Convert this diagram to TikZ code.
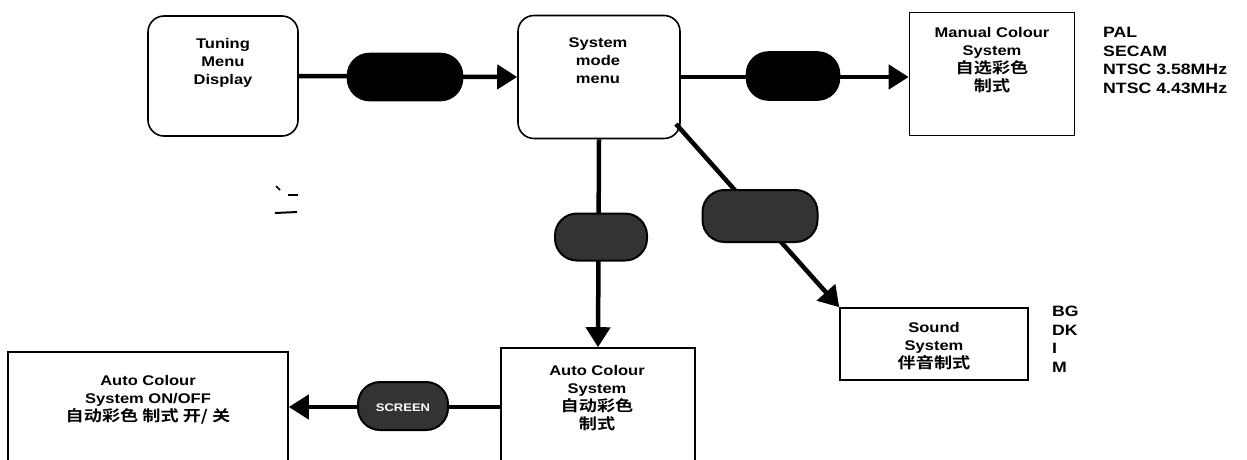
\documentclass[tikz,border=0pt]{standalone}
\usepackage{fontspec}
\setmainfont{Liberation Sans}[FakeStretch=1.18]
\newfontfamily\cjk{Noto Sans CJK SC}[BoldFont={Noto Sans CJK SC Bold},FakeStretch=1.2,Scale=1.08]
\usetikzlibrary{arrows.meta}
\begin{document}
\begin{tikzpicture}[x=1pt,y=-1pt,
  lbl/.style={font=\bfseries\fontsize{14}{18}\selectfont,align=center},
  rbox/.style={draw,line width=1.6pt,rounded corners=16pt,inner sep=0pt},
  sbox/.style={draw,line width=1.6pt,inner sep=0pt},
  pill/.style={draw,line width=1.6pt,fill=black,rounded corners=22pt,inner sep=0pt},
  gpill/.style={draw,line width=2pt,fill=black!80,rounded corners=22pt,inner sep=0pt},
  arr/.style={line width=4.5pt,-{Triangle[length=20pt,width=24pt]}},
  lst/.style={font=\bfseries\fontsize{15}{18.5}\selectfont,align=left,anchor=north west,inner sep=0pt}]
\useasboundingbox (0,0) rectangle (1247,459);
% boxes
\node[rbox,minimum width=150pt,minimum height=120pt] (tun) at (223,76) {};
\node[lbl] (tuntxt) at (223,63) {Tuning\\Menu\\Display};
\node[rbox,minimum width=162pt,minimum height=123pt] (sys) at (599,77) {};
\node[lbl] (systxt) at (598,61) {System\\mode\\menu};
\node[sbox,minimum width=165pt,minimum height=123pt] (man) at (992,74) {};
\node[lbl] (mantxt) at (992,60) {Manual Colour\\System\\{\cjk 自选彩色}\\{\cjk 制式}};
\node[lst] (mlist) at (1103,27) {PAL\\SECAM\\NTSC 3.58MHz\\NTSC 4.43MHz};
\node[sbox,minimum width=188pt,minimum height=72pt] (snd) at (934,344) {};
\node[lbl] (sndtxt) at (934,346) {Sound\\System\\{\cjk 伴音制式}};
\node[lst] (slist) at (1052,306) {BG\\DK\\I\\M};
\node[sbox,minimum width=194pt,minimum height=140pt] (auto) at (598,418) {};
\node[lbl] (autotxt) at (597,398) {Auto Colour\\System\\{\cjk 自动彩色}\\{\cjk 制式}};
\node[sbox,minimum width=280pt,minimum height=140pt] (onoff) at (148,422) {};
\node[lbl] (onofftxt) at (148,400) {Auto Colour\\System ON/OFF\\{\cjk 自动彩色 制式 开/ 关}};
% connectors
\draw[arr] (tun.east) -- (sys.west);
\coordinate (mstart) at (sys.east);
\draw[arr] (mstart) -- (man.west |- mstart);
\draw[arr] (sys.south) -- (auto.north);
\coordinate (dstart) at (676,124);
\draw[arr] (dstart) -- (snd.north west);
\coordinate (astart) at (auto.west |- 0,407);
\draw[arr] (astart) -- (onoff.east |- astart);
% pills
\node[pill,minimum width=115pt,minimum height=47pt] (p1) at (405,77) {};
\node[pill,minimum width=93pt,minimum height=48pt] (p2) at (793,76) {};
\node[gpill,minimum width=92pt,minimum height=47pt] (p3) at (601,237) {};
\node[gpill,minimum width=115pt,minimum height=52pt] (p4) at (760,216) {};
\node[gpill,minimum width=90pt,minimum height=48pt] (p5) at (403,406) {};
\node[font=\bfseries\fontsize{11}{12}\selectfont,text=white] (p5txt) at (403,408) {SCREEN};
% stray marks
\draw[line width=1.5pt] (276,186) -- (280,190);
\draw[line width=2pt] (288,195) -- (298,195);
\draw[line width=2pt] (275,213) -- (297,212);
\end{tikzpicture}
\end{document}
